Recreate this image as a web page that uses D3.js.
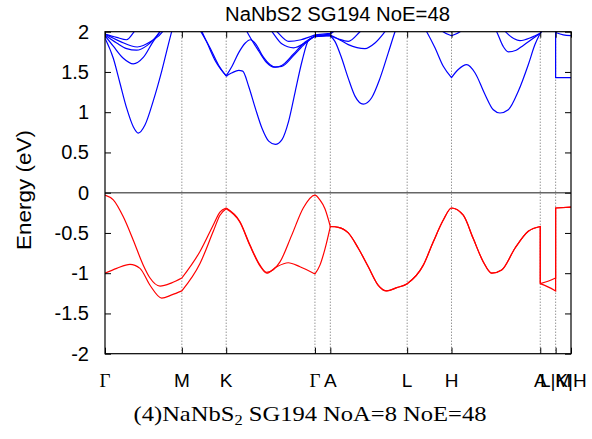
<!DOCTYPE html>
<html><head><meta charset="utf-8">
<script src="https://cdn.jsdelivr.net/npm/d3@7"></script>
<style>body{margin:0;background:#fff}svg{display:block}</style>
</head><body>
<svg id="chart" width="592" height="439"></svg>
<script>
// ---- data ----
const title = "NaNbS2 SG194 NoE=48";
const yLabel = "Energy (eV)";
const kLabels = ["Γ","M","K","Γ","A","L","H","A","L|M","K|H"];
const kPositions = [0, 1.0, 1.577, 2.732, 2.932, 3.932, 4.509, 5.664, 5.864, 6.064];
const yTicks = [-2,-1.5,-1,-0.5,0,0.5,1,1.5,2];

// valence bands (each band: list of continuous pieces of [k, E])
const valence1 = [
  [[0,-0.03],[0.108,-0.09],[0.238,-0.30],[0.368,-0.59],[0.498,-0.90],[0.586,-1.06],[0.716,-1.16],[0.868,-1.12],[1.0,-1.06]],
  [[1.0,-1.06],[1.236,-0.73],[1.409,-0.40],[1.496,-0.24],[1.577,-0.19]],
  [[1.577,-0.19],[1.757,-0.36],[1.887,-0.65],[2.017,-0.90],[2.104,-0.99],[2.277,-0.86],[2.429,-0.53],[2.580,-0.19],[2.732,-0.03],[2.797,-0.09],[2.862,-0.20],[2.932,-0.42]],
  [[2.932,-0.42],[3.036,-0.43],[3.166,-0.50],[3.296,-0.69],[3.426,-0.92],[3.556,-1.15],[3.666,-1.22],[3.796,-1.18],[3.932,-1.13],[4.142,-0.90],[4.272,-0.61],[4.402,-0.34],[4.509,-0.19],[4.662,-0.28],[4.792,-0.57],[4.923,-0.86],[5.032,-1.0],[5.162,-0.96],[5.335,-0.69],[5.508,-0.48],[5.664,-0.42]],
  [[5.664,-1.13],[5.764,-1.10],[5.864,-1.06]],
  [[5.864,-0.19],[6.064,-0.18]]
];
const valence2 = [
  [[0,-1.0],[0.152,-0.94],[0.325,-0.89],[0.455,-0.94],[0.586,-1.15],[0.738,-1.31],[0.868,-1.27],[1.0,-1.22]],
  [[1.0,-1.22],[1.236,-0.88],[1.409,-0.48],[1.496,-0.28],[1.577,-0.20]],
  [[1.577,-0.20],[1.757,-0.37],[1.887,-0.66],[2.017,-0.91],[2.104,-1.0],[2.234,-0.92],[2.385,-0.87],[2.537,-0.92],[2.732,-1.01]],
  [[2.732,-1.01],[2.797,-0.90],[2.862,-0.70],[2.932,-0.42]],
  [[2.932,-0.42],[3.036,-0.43],[3.166,-0.50],[3.296,-0.69],[3.426,-0.92],[3.556,-1.15],[3.666,-1.22],[3.796,-1.18],[3.932,-1.13],[4.142,-0.90],[4.272,-0.61],[4.402,-0.34],[4.509,-0.19],[4.662,-0.28],[4.792,-0.57],[4.923,-0.86],[5.032,-1.0],[5.162,-0.96],[5.335,-0.69],[5.508,-0.48],[5.664,-0.42]],
  [[5.664,-1.13],[5.764,-1.17],[5.864,-1.22]],
  [[5.864,-0.19],[6.064,-0.18]]
];

// conduction bands
const conduction1 = [
  [[0,1.92],[0.108,1.67],[0.195,1.36],[0.282,1.05],[0.368,0.82],[0.433,0.74],[0.520,0.84],[0.628,1.14],[0.738,1.51],[0.824,1.84],[0.868,2.0],[1.0,2.35]],
  [[1.0,2.35],[1.236,2.02],[1.366,1.80],[1.475,1.59],[1.577,1.45]],
  [[1.577,1.45],[1.653,1.49],[1.740,1.52],[1.792,1.51],[1.870,1.32],[1.956,1.05],[2.043,0.80],[2.130,0.64],[2.216,0.60],[2.303,0.66],[2.390,0.89],[2.476,1.26],[2.563,1.63],[2.651,1.90],[2.732,1.94]],
  [[2.732,1.94],[2.932,1.95]],
  [[2.932,1.95],[2.992,1.88],[3.080,1.67],[3.166,1.42],[3.253,1.20],[3.361,1.10],[3.470,1.18],[3.578,1.42],[3.687,1.74],[3.774,2.0],[3.932,2.35]],
  [[3.932,2.35],[4.186,2.0],[4.294,1.80],[4.402,1.57],[4.509,1.43]],
  [[4.509,1.43],[4.597,1.53],[4.707,1.59],[4.814,1.49],[4.945,1.22],[5.053,1.03],[5.140,0.99],[5.248,1.03],[5.378,1.26],[5.508,1.59],[5.595,1.84],[5.664,1.98]],
  [[5.664,1.98],[5.764,2.1],[5.864,2.2]],
  [[5.864,1.43],[6.064,1.43]]
];
const conduction2 = [
  [[0,1.95],[0.108,1.82],[0.238,1.67],[0.368,1.60],[0.498,1.68],[0.628,1.88],[0.716,2.0],[1.0,2.4]],
  [[1.0,2.4],[1.236,2.05],[1.320,1.88],[1.440,1.63],[1.577,1.45]],
  [[1.577,1.45],[1.653,1.57],[1.740,1.74],[1.826,1.86],[1.891,1.90],[1.960,1.85],[2.050,1.70],[2.150,1.59],[2.216,1.56],[2.300,1.58],[2.450,1.72],[2.600,1.87],[2.732,1.94]],
  [[2.732,1.94],[2.932,1.96]],
  [[2.932,1.96],[3.036,1.91],[3.166,1.84],[3.383,1.79],[3.513,1.86],[3.643,2.0],[3.932,2.4]],
  [[3.932,2.4],[4.30,2.1],[4.40,2.0],[4.509,1.95]],
  [[4.509,1.95],[4.62,2.0],[4.85,2.3],[5.097,2.0],[5.18,1.82],[5.248,1.75],[5.35,1.77],[5.443,1.83],[5.664,1.98]],
  [[5.664,1.98],[5.764,2.2],[5.864,2.3]],
  [[5.864,1.99],[5.964,1.96],[6.064,1.95]]
];
const conduction3 = [
  [[0,1.96],[0.152,1.86],[0.282,1.79],[0.410,1.77],[0.550,1.83],[0.716,2.0],[1.0,2.5]],
  [[1.0,2.5],[1.577,2.6]],
  [[1.577,2.6],[1.848,2.0],[2.0,1.76],[2.1,1.62],[2.2,1.56],[2.30,1.57],[2.45,1.70],[2.60,1.85],[2.732,1.95]],
  [[2.732,1.95],[2.932,1.95]],
  [[2.932,1.95],[3.036,1.91],[3.166,1.88],[3.318,2.0],[3.5,2.2],[3.932,2.5]],
  [[3.932,2.5],[4.509,2.5]],
  [[4.509,2.5],[5.0,2.3],[5.21,2.0],[5.40,1.89],[5.55,1.93],[5.664,1.98]],
  [[5.664,1.98],[5.864,2.4]]
];
const conduction4 = [
  [[0,1.97],[0.195,1.88],[0.420,1.81],[0.600,1.88],[0.750,2.0],[1.0,2.6]],
  [[1.0,2.6],[1.577,2.8]],
  [[1.577,2.8],[2.173,2.0],[2.30,1.85],[2.455,1.80],[2.60,1.86],[2.732,1.95]],
  [[2.732,1.95],[2.932,1.97]],
  [[2.932,1.97],[3.10,2.1],[3.4,2.4]]
];
const conduction5 = [
  [[0,1.97],[0.150,1.93],[0.280,1.90],[0.380,2.0],[0.600,2.3],[1.0,2.7]],
  [[1.0,2.7],[1.577,2.9]],
  [[1.577,2.9],[2.238,2.0],[2.390,1.88],[2.550,1.90],[2.732,1.96]],
  [[2.732,1.96],[2.932,1.98]],
  [[2.932,1.98],[3.0,2.05],[3.2,2.3]]
];

const valenceBands = [valence1, valence2];
const conductionBands = [conduction1, conduction2, conduction3, conduction4, conduction5];

// ---- layout ----
const svg = d3.select("#chart");
const L = 105, R = 571, T = 31.7, B = 353.7;
const x = d3.scaleLinear().domain([0, 6.064]).range([L, R]);
const y = d3.scaleLinear().domain([-2, 2]).range([B, T]);
const sans = "Liberation Sans, Arial, sans-serif";

svg.append("defs").append("clipPath").attr("id","clip")
  .append("rect").attr("x",L).attr("y",T).attr("width",R-L).attr("height",B-T);

// vertical k-point lines
svg.append("g").selectAll("line").data(kPositions.slice(1, -1)).join("line")
  .attr("x1", d => x(d)).attr("x2", d => x(d)).attr("y1", T).attr("y2", B)
  .attr("stroke", "#666").attr("stroke-width", 1).attr("stroke-dasharray", "1,2");

// zero line
svg.append("line").attr("x1", L).attr("x2", R).attr("y1", y(0)).attr("y2", y(0))
  .attr("stroke", "#666").attr("stroke-width", 1.5);

// bands
const line = d3.line().x(d => x(d[0])).y(d => y(d[1])).curve(d3.curveMonotoneX);
function bandPath(pieces) {
  let d = "";
  pieces.forEach((p, i) => {
    const seg = line(p);
    if (i === 0) d += seg;
    else d += "L" + x(p[0][0]) + "," + y(p[0][1]) + seg.replace(/^M/, "L");
  });
  return d;
}
const gBands = svg.append("g").attr("clip-path", "url(#clip)");
gBands.selectAll("path.c").data(conductionBands).join("path").attr("class","c")
  .attr("d", bandPath).attr("fill","none").attr("stroke","#0000ff").attr("stroke-width",1.2);
gBands.selectAll("path.v").data(valenceBands).join("path").attr("class","v")
  .attr("d", bandPath).attr("fill","none").attr("stroke","#ff0000").attr("stroke-width",1.2);

// axes
const yAxisL = d3.axisLeft(y).tickValues(yTicks).tickSize(-6).tickPadding(16)
  .tickFormat(d => String(d));
const gy = svg.append("g").attr("transform", `translate(${L},0)`).call(yAxisL);
gy.select(".domain").remove();
gy.selectAll("line").attr("stroke","#000");
gy.selectAll("text").attr("font-family",sans).attr("font-size",20).attr("fill","#000");

const gyR = svg.append("g").attr("transform", `translate(${R},0)`)
  .call(d3.axisRight(y).tickValues(yTicks).tickSize(-6).tickFormat(""));
gyR.select(".domain").remove();
gyR.selectAll("line").attr("stroke","#000");

const gx = svg.append("g").attr("transform", `translate(0,${B})`)
  .call(d3.axisBottom(x).tickValues(kPositions).tickSize(-6).tickFormat(""));
gx.select(".domain").remove();
gx.selectAll("line").attr("stroke","#000");
const gxT = svg.append("g").attr("transform", `translate(0,${T})`)
  .call(d3.axisTop(x).tickValues(kPositions).tickSize(-6).tickFormat(""));
gxT.select(".domain").remove();
gxT.selectAll("line").attr("stroke","#000");

// k labels
svg.append("g").selectAll("text").data(kLabels).join("text")
  .attr("x", (d, i) => x(kPositions[i])).attr("y", 387)
  .attr("text-anchor","middle")
  .attr("font-family", d => d === "Γ" ? "Liberation Serif, serif" : sans)
  .attr("font-size", 19).text(d => d);

// frame
svg.append("rect").attr("x",L).attr("y",T).attr("width",R-L).attr("height",B-T)
  .attr("fill","none").attr("stroke","#000").attr("stroke-width",1.2);

// title
svg.append("text").attr("x", 337.5).attr("y", 21).attr("text-anchor","middle")
  .attr("font-family",sans).attr("font-size",20)
  .attr("textLength", 225).attr("lengthAdjust","spacingAndGlyphs").text(title);

// y label
svg.append("text").attr("transform","translate(31,190) rotate(-90)").attr("text-anchor","middle")
  .attr("font-family",sans).attr("font-size",20)
  .attr("textLength", 120).attr("lengthAdjust","spacingAndGlyphs").text(yLabel);

// caption
const cap = svg.append("text").attr("x", 310).attr("y", 421).attr("text-anchor","middle")
  .attr("font-family","Liberation Serif, serif").attr("font-size",21)
  .attr("textLength", 353).attr("lengthAdjust","spacingAndGlyphs");
cap.append("tspan").text("(4)NaNbS");
cap.append("tspan").attr("font-size",14).attr("dy",4).text("2");
cap.append("tspan").attr("dy",-4).text(" SG194 NoA=8 NoE=48");
</script>
</body></html>
